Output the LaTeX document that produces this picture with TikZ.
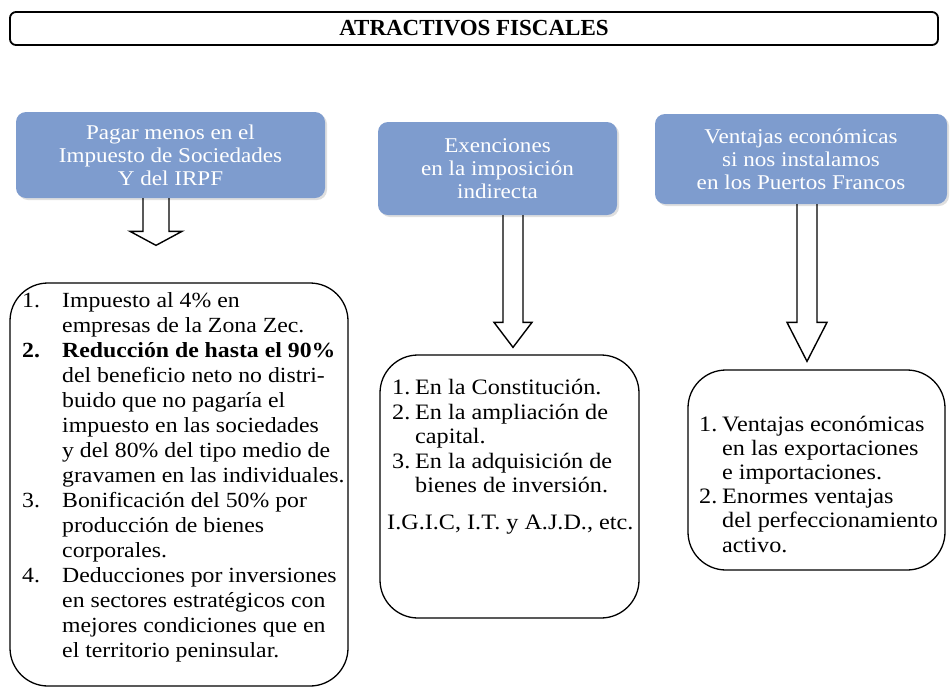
\documentclass[tikz,border=0pt]{standalone}
\usepackage{fontspec}
\setmainfont{Liberation Serif}[FakeStretch=1.1]
\newfontfamily\titlefont{Liberation Serif}
\usetikzlibrary{shadows,calc}
\definecolor{boxblue}{RGB}{126,156,206}
\begin{document}
\begin{tikzpicture}[x=1pt,y=-1pt,
  titlebox/.style={draw=black, line width=1.8pt, rounded corners=6pt, minimum width=928pt, minimum height=33pt, inner sep=0pt, font=\titlefont\fontsize{23}{24}\selectfont\bfseries},
  bluebox/.style={fill=boxblue, rounded corners=10pt, text=white, align=center, inner sep=0pt, font=\fontsize{21}{23}\selectfont, drop shadow={shadow xshift=2pt,shadow yshift=-2pt,opacity=0.25,fill=gray}},
  listbox/.style={draw=black, line width=1.3pt, rounded corners=38pt, inner sep=0pt},
  listtext/.style={anchor=north west, inner sep=0pt, align=left},
  hollow/.style={draw=black, line width=1.4pt, line join=miter}
]
\useasboundingbox (0,0) rectangle (950,689);

% title
\node[titlebox] (title) at (474,28.5) {ATRACTIVOS FISCALES};

% blue header boxes
\node[bluebox, minimum width=309pt, minimum height=86pt] (b1) at (170.5,155) {Pagar menos en el\\Impuesto de Sociedades\\Y del IRPF};
\node[bluebox, minimum width=239pt, minimum height=93pt] (b2) at (497.5,168.5) {Exenciones\\en la imposición\\indirecta};
\node[bluebox, minimum width=292pt, minimum height=90pt] (b3) at (801,159) {Ventajas económicas\\si nos instalamos\\en los Puertos Francos};

% list boxes
\node[listbox, minimum width=338pt, minimum height=403pt] (l1) at (179,484.5) {};
\node[listbox, minimum width=259pt, minimum height=263pt] (l2) at (509.5,486.5) {};
\node[listbox, minimum width=257pt, minimum height=200pt] (l3) at (816.5,470) {};

% hollow arrows
\coordinate (a1) at (156,0);
\coordinate (a2) at (513,0);
\coordinate (a3) at (807,0);
\draw[hollow] ($(a1 |- b1.south)+(-13,0)$) -- ($(a1 |- l1.north)+(-13,-51)$) -- ($(a1 |- l1.north)+(-26,-51)$) -- ($(a1 |- l1.north)+(0,-37)$) -- ($(a1 |- l1.north)+(26,-51)$) -- ($(a1 |- l1.north)+(13,-51)$) -- ($(a1 |- b1.south)+(13,0)$);
\draw[hollow] ($(a2 |- b2.south)+(-10,0)$) -- ($(a2 |- l2.north)+(-10,-32)$) -- ($(a2 |- l2.north)+(-19,-32)$) -- ($(a2 |- l2.north)+(0,-7)$) -- ($(a2 |- l2.north)+(19,-32)$) -- ($(a2 |- l2.north)+(10,-32)$) -- ($(a2 |- b2.south)+(10,0)$);
\draw[hollow] ($(a3 |- b3.south)+(-10,0)$) -- ($(a3 |- l3.north)+(-10,-47)$) -- ($(a3 |- l3.north)+(-20,-47)$) -- ($(a3 |- l3.north)+(0,-8)$) -- ($(a3 |- l3.north)+(20,-47)$) -- ($(a3 |- l3.north)+(10,-47)$) -- ($(a3 |- b3.south)+(10,0)$);

% list texts
\node[listtext, font=\fontsize{21.6}{25}\selectfont] (t1) at (22,290) {%
\begin{tabular}{@{}p{40pt}@{}l@{}}
1. & Impuesto al 4\% en\\
 & empresas de la Zona Zec.\\
\textbf{2.} & \textbf{Reducción de hasta el 90\%}\\
 & del beneficio neto no distri-\\
 & buido que no pagaría el\\
 & impuesto en las sociedades\\
 & y del 80\% del tipo medio de\\
 & gravamen en las individuales.\\
3. & Bonificación del 50\% por\\
 & producción de bienes\\
 & corporales.\\
4. & Deducciones por inversiones\\
 & en sectores estratégicos con\\
 & mejores condiciones que en\\
 & el territorio peninsular.
\end{tabular}};

\node[listtext, font=\fontsize{22}{24.5}\selectfont] (t2) at (387,377.5) {%
\begin{tabular}{@{}p{5pt}@{}p{23pt}@{}l@{}}
 & 1. & En la Constitución.\\
 & 2. & En la ampliación de\\
 & & capital.\\
 & 3. & En la adquisición de\\
 & & bienes de inversión.\\[12pt]
\multicolumn{3}{@{}l@{}}{I.G.I.C, I.T. y A.J.D., etc.}
\end{tabular}};

\node[listtext, font=\fontsize{22}{24.2}\selectfont] (t3) at (699,414) {%
\begin{tabular}{@{}p{23pt}@{}l@{}}
1. & Ventajas económicas\\
 & en las exportaciones\\
 & e importaciones.\\
2. & Enormes ventajas\\
 & del perfeccionamiento\\
 & activo.
\end{tabular}};
\end{tikzpicture}
\end{document}
